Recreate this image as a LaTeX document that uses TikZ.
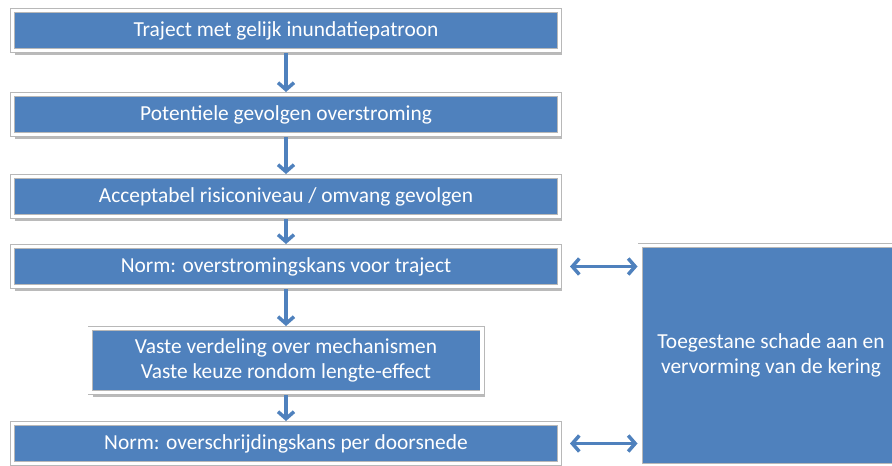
\documentclass[tikz,border=0pt]{standalone}
\usepackage{fontspec}
\setmainfont{Carlito}
\usetikzlibrary{positioning,shadows,arrows.meta}
\definecolor{boxblue}{HTML}{4F81BD}
\begin{document}
\begin{tikzpicture}
[
    x=1pt, y=1pt,
    stapbox/.style={rectangle, fill=boxblue, draw=black!28, double=white, double distance=3.5pt,
        line width=0.75pt, outer sep=2.5pt, inner sep=0pt, text=white, align=center,
        font=\fontsize{21.4}{25}\selectfont, minimum height=40pt,
        drop shadow={shadow xshift=2.5pt, shadow yshift=-4.5pt, opacity=0.45, fill=black!60}},
    breed/.style={stapbox, minimum width=547pt},
    pijl/.style={draw=boxblue, line width=3.5pt, -{Straight Barb[length=7pt,width=16pt]}},
    dubbelpijl/.style={pijl, {Straight Barb[length=7pt,width=16pt]}-{Straight Barb[length=7pt,width=16pt]}},
]
\useasboundingbox (0,0) rectangle (892,-466);
\node[breed] (traject) at (286,-30.5) {Traject met gelijk inundatiepatroon};
\node[breed, below=39pt of traject] (gevolgen) {Potentiele gevolgen overstroming};
\node[breed, below=37pt of gevolgen] (risico) {Acceptabel risiconiveau / omvang gevolgen};
\node[breed, below=25pt of risico] (normtraject) {Norm: overstromingskans voor traject};
\node[stapbox, minimum width=392pt, minimum height=64pt, below=37pt of normtraject] (verdeling)
    {Vaste verdeling over mechanismen\\Vaste keuze rondom lengte-effect};
\node[breed, below=26pt of verdeling] (normdoorsnede) {Norm: overschrijdingskans per doorsnede};
\node[stapbox, minimum width=262pt, minimum height=220pt] (toegestaan) at (771,-355.5)
    {Toegestane schade aan en\\vervorming van de kering};

\draw[pijl] (traject) -- (gevolgen);
\draw[pijl] (gevolgen) -- (risico);
\draw[pijl] (risico) -- (normtraject);
\draw[pijl] (normtraject) -- (verdeling);
\draw[pijl] (verdeling) -- (normdoorsnede);
\draw[dubbelpijl, shorten <=8pt] (normtraject.east) -- (normtraject.east -| toegestaan.west);
\draw[dubbelpijl, shorten <=8pt] (normdoorsnede.east) -- (normdoorsnede.east -| toegestaan.west);
\end{tikzpicture}
\end{document}
